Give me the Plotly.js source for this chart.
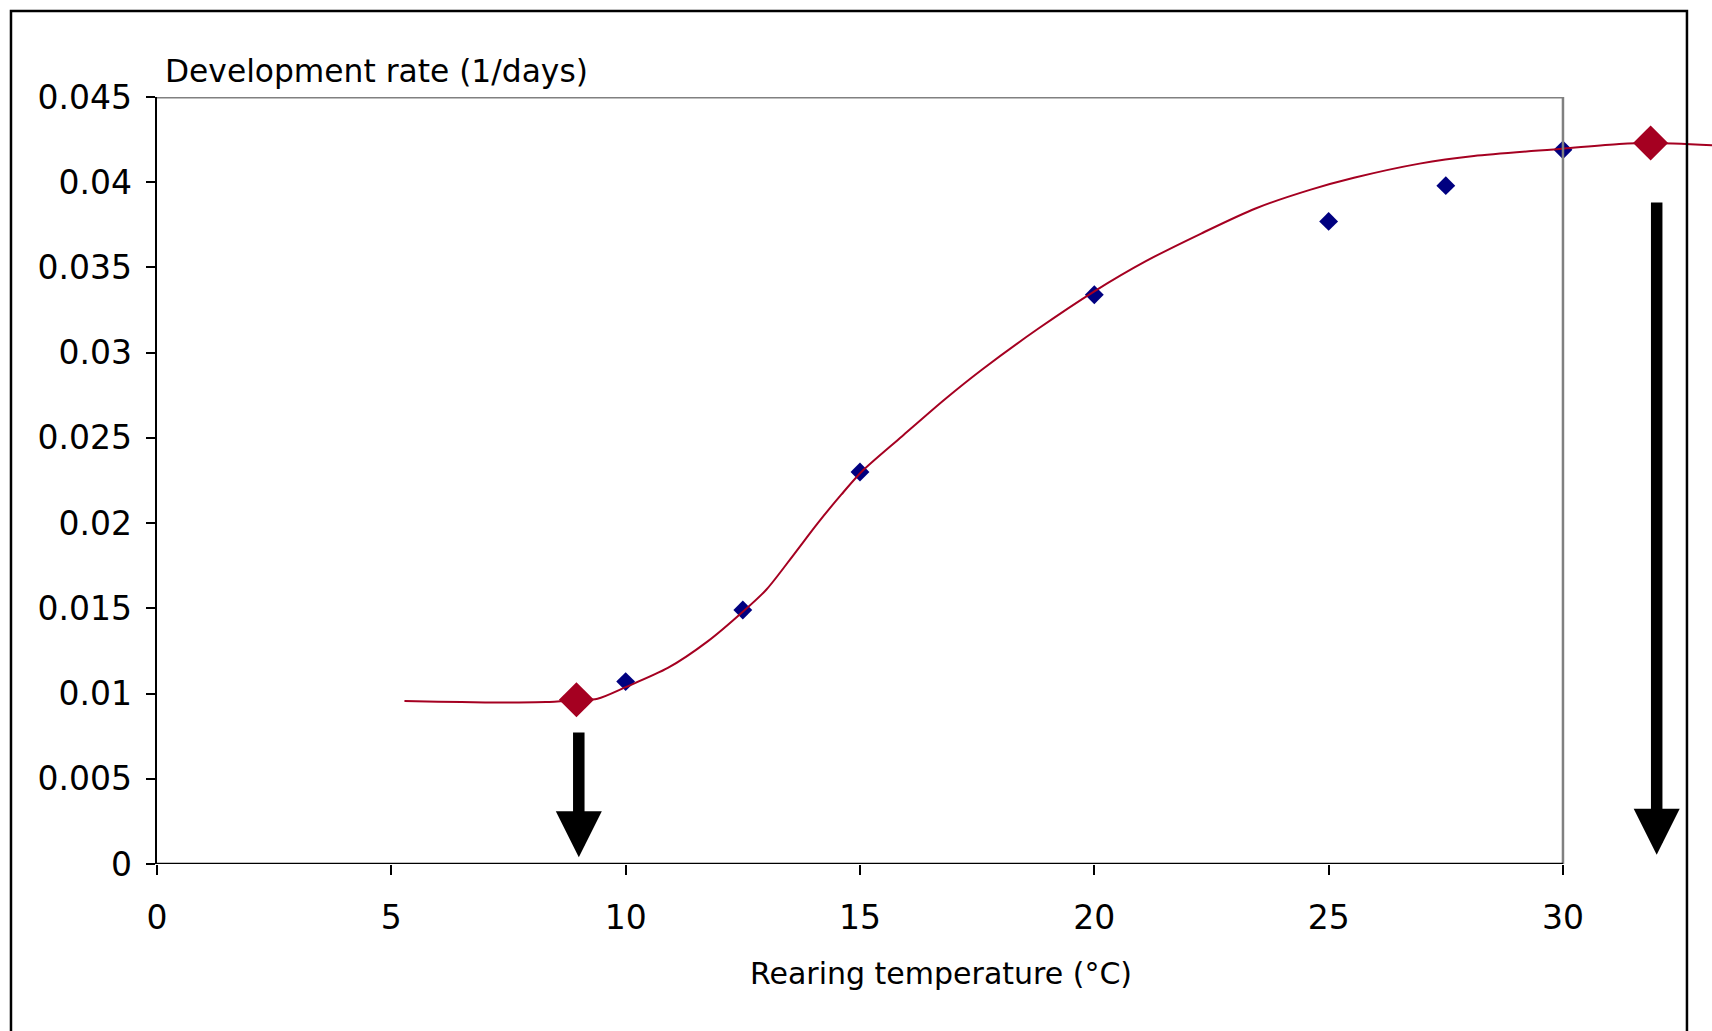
<!DOCTYPE html>
<html>
<head>
<meta charset="utf-8">
<script src="https://cdn.plot.ly/plotly-3.0.1.min.js"></script>
<style>
html,body{margin:0;padding:0;background:#fff;}
#chart{width:1712px;height:1031px;}
</style>
</head>
<body>
<div id="chart"></div>
<script>
// ---- data ----
const xTickVals = [0, 5, 10, 15, 20, 25, 30];
const xTickText = ['0', '5', '10', '15', '20', '25', '30'];
const yTickVals = [0, 0.005, 0.01, 0.015, 0.02, 0.025, 0.03, 0.035, 0.04, 0.045];
const yTickText = ['0', '0.005', '0.01', '0.015', '0.02', '0.025', '0.03', '0.035', '0.04', '0.045'];

// observed development rates
const obsTemp = [10, 12.5, 15, 20, 25, 27.5, 30];
const obsRate = [0.0107, 0.0149, 0.0230, 0.0334, 0.0377, 0.0398, 0.0419];

// thresholds (lower / upper)
const threshTemp = [8.95, 31.87];
const threshRate = [0.00964, 0.0423];

// fitted curve
const fitTemp = [5.28, 6.0, 7.0, 7.6, 8.3, 8.95, 9.4, 10.0, 10.9, 11.75, 12.5, 13.0, 13.6, 14.1, 14.6, 15.04,
                 15.9, 16.8, 17.6, 18.8, 20.0, 21.1, 22.28, 23.44, 24.6, 25.54, 26.94, 28.1, 30.0, 31.2, 31.87, 33.3];
const fitRate = [0.00956, 0.00952, 0.00948, 0.00948, 0.0095, 0.00962, 0.0097, 0.01038, 0.0115, 0.01306, 0.0148,
                 0.01609, 0.0182, 0.0200, 0.02167, 0.02303, 0.0251, 0.02724, 0.0290, 0.0314, 0.0336, 0.03537,
                 0.03699, 0.03846, 0.03955, 0.04026, 0.04109, 0.04154, 0.04197, 0.04224, 0.0423, 0.04216];

// arrows marking the thresholds
const arrowTemp = [9, 32];
const arrowFrom = [0.0078, 0.0389];
const arrowTo = [0.0004, 0.00055];

const yTitle = 'Development rate (1/days)';
const xTitle = 'Rearing temperature (°C)';

// ---- traces ----
const RED = '#A50021';
const BLUE = '#000080';

const traces = [
  {
    x: obsTemp, y: obsRate, type: 'scatter', mode: 'markers',
    marker: {symbol: 'diamond', size: 14.5, color: BLUE, line: {width: 0}},
    hoverinfo: 'skip', cliponaxis: false
  },
  {
    x: fitTemp, y: fitRate, type: 'scatter', mode: 'lines',
    line: {color: RED, width: 2, shape: 'spline', smoothing: 0.8},
    hoverinfo: 'skip'
  },
  {
    x: threshTemp, y: threshRate, type: 'scatter', mode: 'markers',
    marker: {symbol: 'diamond', size: 27, color: RED, line: {width: 0}},
    hoverinfo: 'skip', cliponaxis: false
  }
];

const annotations = [
  {xref: 'paper', yref: 'paper', x: 0.0037, y: 1.0339, xanchor: 'left', yanchor: 'middle',
   text: yTitle, showarrow: false, font: {size: 31.3}},
  {xref: 'paper', yref: 'paper', x: 0.5042, y: -0.1434, xanchor: 'center', yanchor: 'middle',
   text: xTitle, showarrow: false, font: {size: 30}}
];
for (let i = 0; i < arrowTemp.length; i++) {
  annotations.push({
    xref: 'x', yref: 'y', axref: 'x', ayref: 'y',
    x: arrowTemp[i], y: arrowTo[i], ax: arrowTemp[i], ay: arrowFrom[i],
    text: '', showarrow: true, arrowhead: 2, arrowwidth: 11.5, arrowsize: 0.8,
    arrowcolor: '#000', standoff: 0, startstandoff: 0
  });
}

const layout = {
  width: 1712, height: 1031,
  margin: {l: 157, r: 0, t: 97, b: 167, pad: 0},
  paper_bgcolor: '#fff', plot_bgcolor: '#fff',
  showlegend: false,
  font: {family: 'DejaVu Sans, Verdana, sans-serif', size: 33, color: '#000'},
  xaxis: {
    range: [0, 33.18], tickmode: 'array', tickvals: xTickVals, ticktext: xTickText,
    ticks: 'outside', ticklen: 10, tickwidth: 2, tickcolor: '#000',
    showline: false, showgrid: false, zeroline: false, ticklabelstandoff: 14,
    fixedrange: true
  },
  yaxis: {
    range: [0, 0.045], tickmode: 'array', tickvals: yTickVals, ticktext: yTickText,
    ticks: 'outside', ticklen: 9, tickwidth: 2, tickcolor: '#000',
    showline: true, linecolor: '#000', linewidth: 2.5,
    showgrid: false, zeroline: false, ticklabelstandoff: 7, fixedrange: true
  },
  shapes: [
    {type: 'line', xref: 'x', yref: 'y', x0: 0, x1: 30, y0: 0.045, y1: 0.045, line: {color: '#808080', width: 3}},
    {type: 'line', xref: 'x', yref: 'y', x0: 30, x1: 30, y0: 0, y1: 0.045, line: {color: '#808080', width: 2.5}},
    {type: 'line', xref: 'x', yref: 'y', x0: 0, x1: 30, y0: 0, y1: 0, line: {color: '#000', width: 2.5}},
    {type: 'rect', xref: 'paper', yref: 'paper', x0: -0.0939, x1: 0.9839, y0: -0.25, y1: 1.1121,
     line: {color: '#000', width: 2.5}, fillcolor: 'rgba(0,0,0,0)'}
  ],
  annotations: annotations
};

Plotly.newPlot('chart', traces, layout, {displayModeBar: false, staticPlot: true});
</script>
</body>
</html>
